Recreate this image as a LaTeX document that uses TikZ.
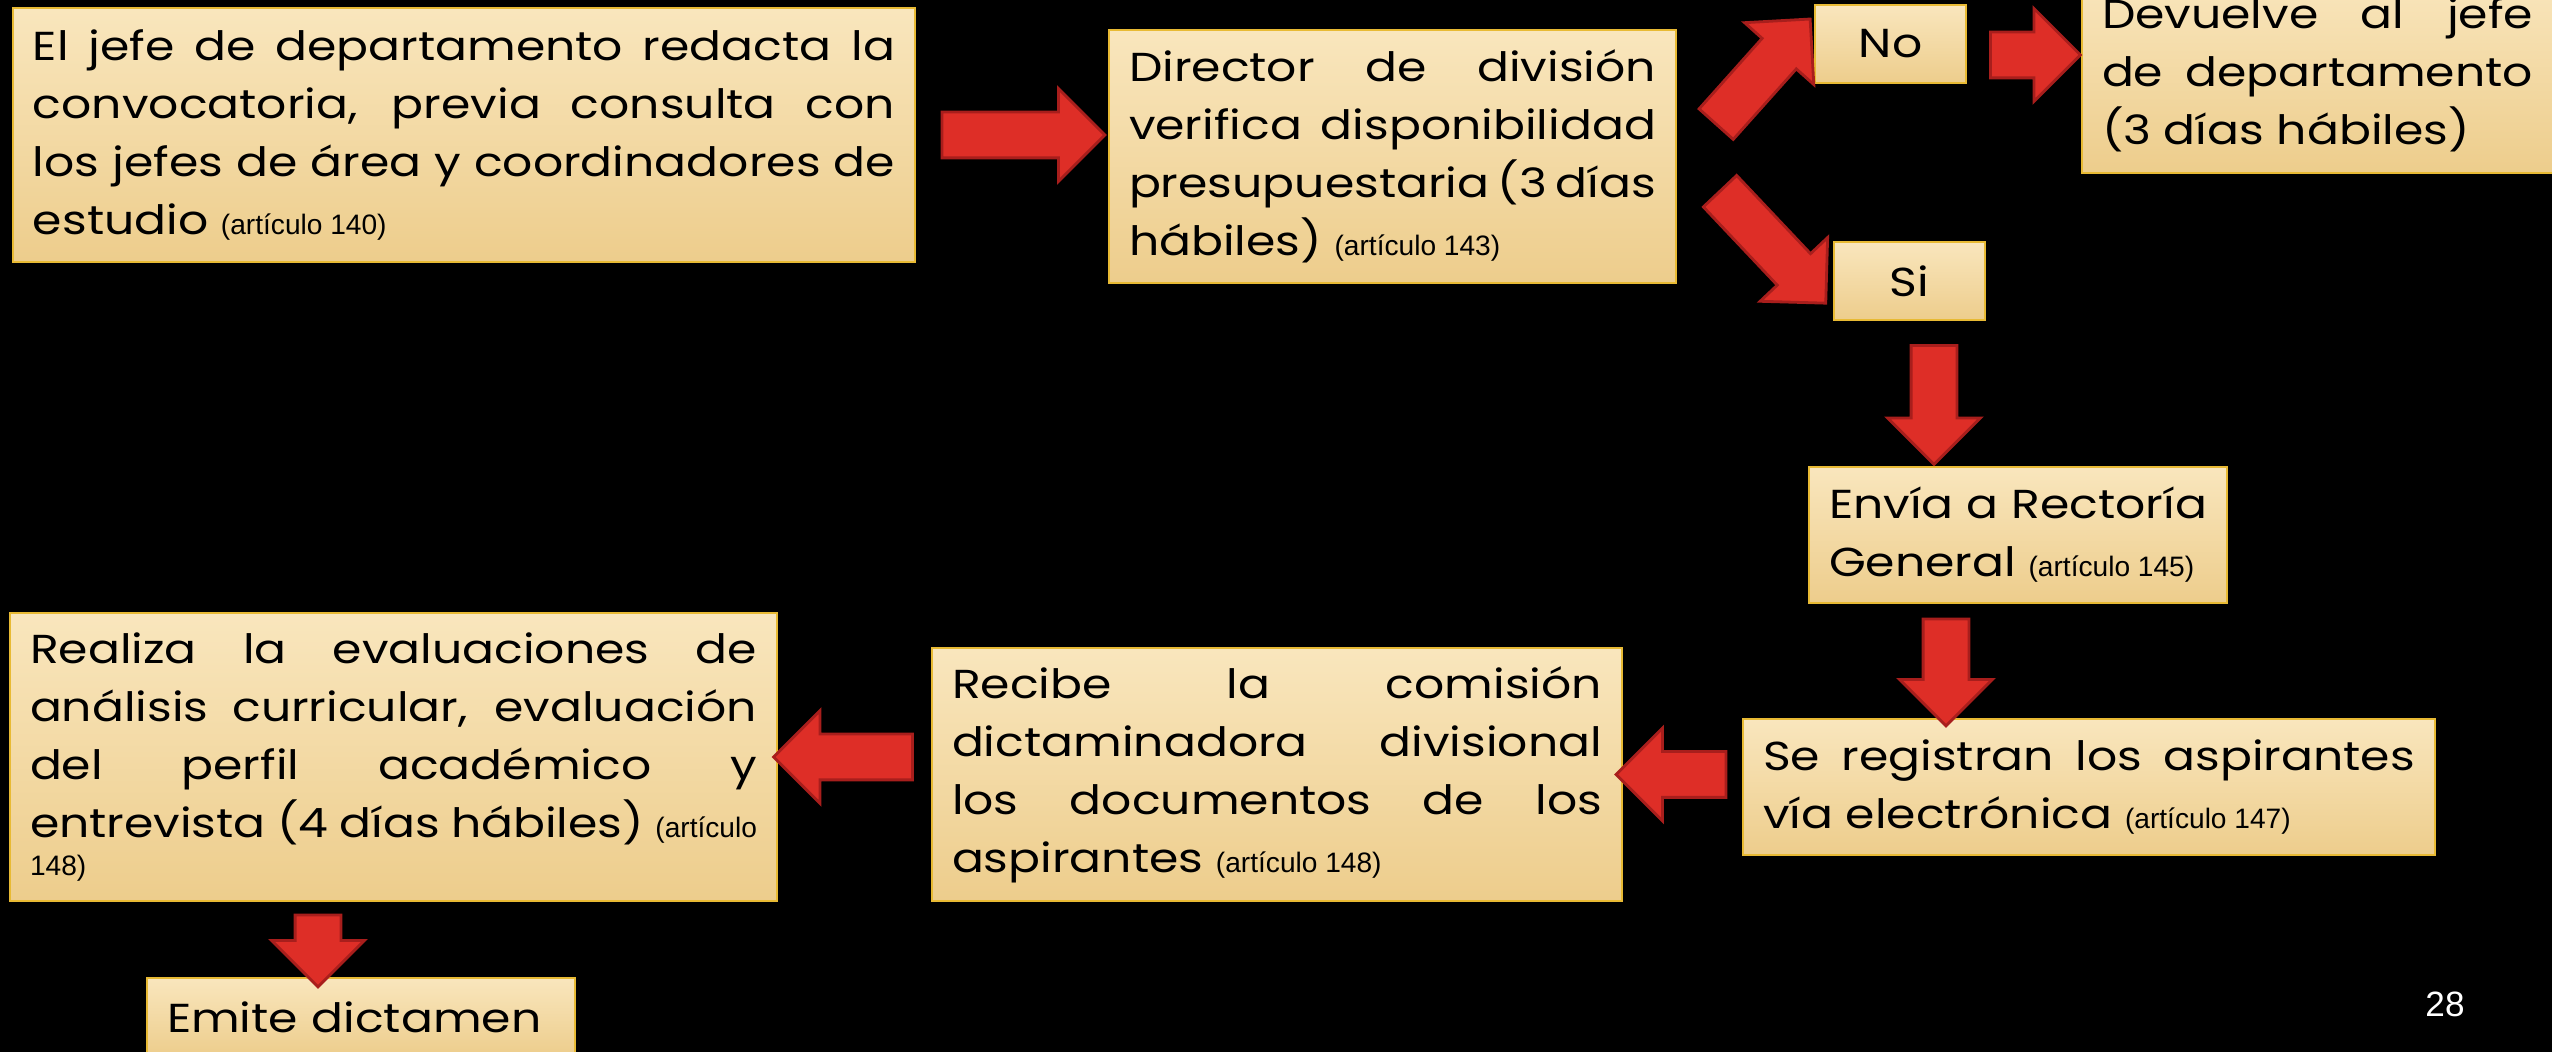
\documentclass[tikz,border=0pt]{standalone}
\usepackage{fontspec}
\setmainfont{Poppins}[FakeStretch=1.17]
\newfontfamily\artfont{Liberation Sans}
\usetikzlibrary{shapes.arrows,calc}
\definecolor{boxtop}{RGB}{249,230,189}
\definecolor{boxbot}{RGB}{237,205,140}
\definecolor{boxline}{RGB}{232,186,52}
\definecolor{arrowfill}{RGB}{222,46,39}
\definecolor{arrowline}{RGB}{168,30,28}
\tolerance=10000
\hyphenpenalty=10000
\exhyphenpenalty=10000
\setlength\parindent{0pt}
\tikzset{
    box/.style = {draw=boxline, line width=0.7pt, rectangle,
        top color=boxtop, bottom color=boxbot,
        inner xsep=0.2cm, inner ysep=0.1cm, align=justify,
        font=\fontsize{11.5}{16.5}\selectfont},
    smallbox/.style = {box, text width=1.11cm, minimum height=0.78cm, align=center},
    bigarrow/.style = {single arrow, draw=arrowline, fill=arrowfill, line width=0.8pt,
        inner xsep=0pt, inner ysep=0.215cm, minimum width=0pt,
        single arrow head extend=0.235cm, sloped, allow upside down},
    pagenum/.style = {text=white, font=\artfont\fontsize{10}{12}\selectfont}
}
\newcommand\artic[1]{{\artfont\fontsize{8}{9.6}\selectfont #1}}

\begin{document}
\begin{tikzpicture}[x=1cm, y=1cm]
    \useasboundingbox (0,0) rectangle (25.52,-10.52);
    \fill[black] (0,0) rectangle (25.52,-10.52);

    \node [box, text width=8.62cm, minimum height=2.54cm] (jefe) at (4.64,-1.35)
        {El jefe de departamento redacta la\linebreak
         convocatoria, previa consulta con\linebreak
         los jefes de área y coordinadores de\linebreak
         estudio \artic{(artículo 140)}};
    \node [box, text width=5.27cm, minimum height=2.53cm] (director) at (13.925,-1.565)
        {Director de división\linebreak
         verifica disponibilidad\linebreak
         presupuestaria (3 días\linebreak
         hábiles) \artic{(artículo 143)}};
    \node [smallbox] (no) at (18.905,-0.44) {No};
    \node [box, text width=4.31cm, minimum height=1.97cm] (devuelve) at (23.175,-0.745)
        {Devuelve al jefe\linebreak
         de departamento\linebreak
         (3 días hábiles)};
    \node [smallbox] (si) at (19.095,-2.81) {Si};
    \node [box, text width=3.78cm, minimum height=1.36cm] (rectoria) at (20.18,-5.35)
        {Envía a Rectoría\linebreak
         General \artic{(artículo 145)}};
    \node [box, text width=6.52cm, minimum height=1.36cm] (registro) at (20.89,-7.87)
        {Se registran los aspirantes\linebreak
         vía electrónica \artic{(artículo 147)}};
    \node [box, text width=6.5cm, minimum height=2.53cm] (comision) at (12.77,-7.745)
        {Recibe la comisión\linebreak
         dictaminadora divisional\linebreak
         los documentos de los\linebreak
         aspirantes \artic{(artículo 148)}};
    \node [box, text width=7.27cm, minimum height=2.88cm] (evalua) at (3.935,-7.57)
        {Realiza la evaluaciones de\linebreak
         análisis curricular, evaluación\linebreak
         del perfil académico y\linebreak
         entrevista (4 días hábiles) \artic{(artículo}{\parfillskip=0pt\par}
         {\artfont\fontsize{8}{10.8}\selectfont 148)\par}};
    \node [box, text width=3.88cm, minimum height=0.78cm, align=left] (dictamen) at (3.61,-10.17)
        {Emite dictamen};
    \node [pagenum] (num) at (24.45,-10.04) {28};

    \path (jefe.east) -- node[bigarrow, minimum height=1.63cm] {} (jefe.east -| director.west);
    \path ([xshift=1mm]director.east) -- node[bigarrow, minimum height=1.41cm] {} ([xshift=1mm]no.north west);
    \path ([yshift=-1.1mm]no.east) -- node[bigarrow, minimum height=0.9cm] {} ([yshift=-1.1mm]no.east -| devuelve.west);
    \path ([xshift=1mm]director.east) -- node[bigarrow, minimum height=1.54cm] {} ([xshift=1mm]si.south west);
    \path ([xshift=2.45mm]si.south) -- node[bigarrow, minimum height=1.19cm] {} ([xshift=2.45mm]si.south |- rectoria.north);
    \path ([xshift=-7.2mm]rectoria.south) -- node[bigarrow, minimum height=1.07cm] {} ([xshift=-7.2mm]rectoria.south |- registro.north);
    \path (comision.east -| registro.west) -- node[bigarrow, minimum height=1.1cm] {} (comision.east);
    \path (comision.west |- evalua.east) -- node[bigarrow, minimum height=1.39cm] {} (evalua.east);
    \path ([xshift=-4.3mm]dictamen.north |- evalua.south) -- node[bigarrow, minimum height=0.72cm] {} ([xshift=-4.3mm]dictamen.north);
\end{tikzpicture}
\end{document}
